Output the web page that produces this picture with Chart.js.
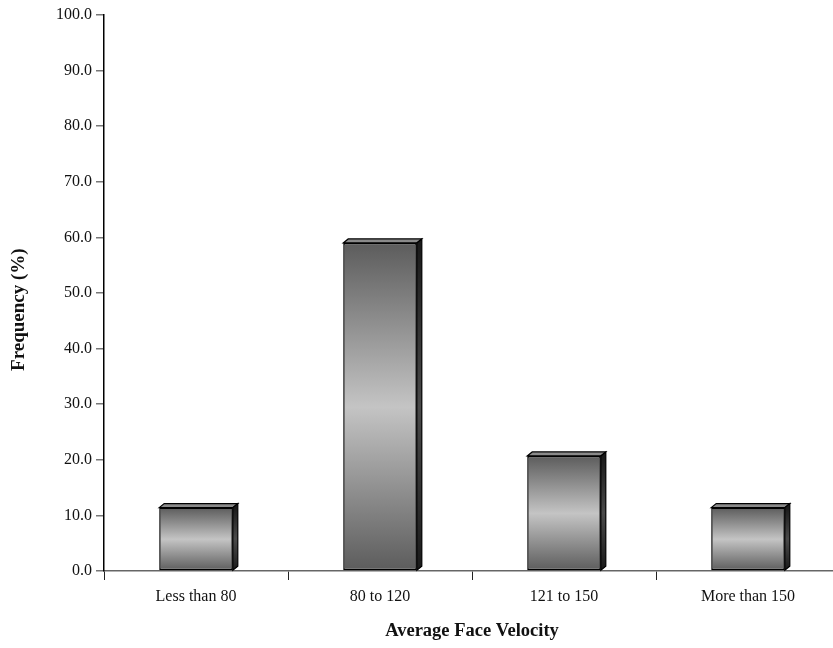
<!DOCTYPE html>
<html lang="en">
<head>
    <meta charset="UTF-8">
    <title>Average Face Velocity</title>
    <script src="https://cdn.jsdelivr.net/npm/chart.js"></script>
    <style>
        html, body { margin: 0; padding: 0; background: #fff; overflow: hidden; }
        #wrap { width: 842px; height: 648px; }
    </style>
</head>
<body>
<div id="wrap">
    <canvas id="velocityChart" width="842" height="648"></canvas>
</div>

<script>
    const categories = ['Less than 80', '80 to 120', '121 to 150', 'More than 150'];
    const frequency = [11.4, 59.0, 20.7, 11.4];
    const yTicks = [0, 10, 20, 30, 40, 50, 60, 70, 80, 90, 100];
    const yTitle = 'Frequency (%)';

    const serif = '"Liberation Serif", "Times New Roman", serif';
    const depthX = 5;
    const depthY = -4;

    // front face: dark at both ends, light through the middle
    function frontFill(ctx) {
        const chart = ctx.chart;
        const yScale = chart.scales.y;
        if (!yScale || ctx.raw === undefined) return '#999';
        const top = yScale.getPixelForValue(ctx.raw);
        const base = yScale.getPixelForValue(0);
        if (!isFinite(top) || !isFinite(base)) return '#999';
        const g = chart.ctx.createLinearGradient(0, top, 0, base);
        g.addColorStop(0, '#5c5c5c');
        g.addColorStop(0.5, '#c4c4c4');
        g.addColorStop(1, '#5c5c5c');
        return g;
    }

    // top and right side faces for the 3D look
    const bar3d = {
        id: 'bar3d',
        afterDatasetsDraw(chart) {
            const c = chart.ctx;
            chart.getDatasetMeta(0).data.forEach(bar => {
                const p = bar.getProps(['x', 'y', 'base', 'width'], true);
                const l = p.x - p.width / 2;
                const r = p.x + p.width / 2;
                c.save();
                c.lineWidth = 1.2;
                c.strokeStyle = '#000';
                c.lineJoin = 'miter';

                c.beginPath();
                c.moveTo(l, p.y);
                c.lineTo(l + depthX, p.y + depthY);
                c.lineTo(r + depthX, p.y + depthY);
                c.lineTo(r, p.y);
                c.closePath();
                c.fillStyle = '#8a8a8a';
                c.fill();
                c.stroke();

                const sg = c.createLinearGradient(0, p.y, 0, p.base);
                sg.addColorStop(0, '#1a1a1a');
                sg.addColorStop(0.5, '#4a4a4a');
                sg.addColorStop(1, '#1a1a1a');
                c.beginPath();
                c.moveTo(r, p.y);
                c.lineTo(r + depthX, p.y + depthY);
                c.lineTo(r + depthX, p.base + depthY);
                c.lineTo(r, p.base);
                c.closePath();
                c.fillStyle = sg;
                c.fill();
                c.stroke();
                c.restore();
            });
        }
    };

    // y axis title, sitting a little below the middle of the axis
    const sideTitle = {
        id: 'sideTitle',
        afterDraw(chart) {
            const c = chart.ctx;
            const area = chart.chartArea;
            c.save();
            c.translate(19, area.top + (area.bottom - area.top) * 0.53);
            c.rotate(-Math.PI / 2);
            c.font = 'bold 19px ' + serif;
            c.fillStyle = '#111';
            c.textAlign = 'center';
            c.textBaseline = 'middle';
            c.fillText(yTitle, 0, 0);
            c.restore();
        }
    };

    new Chart(document.getElementById('velocityChart'), {
        type: 'bar',
        data: {
            labels: categories,
            datasets: [{
                data: frequency,
                backgroundColor: frontFill,
                borderColor: '#000',
                borderWidth: 1.5,
                borderSkipped: false,
                barPercentage: 0.4,
                categoryPercentage: 1
            }]
        },
        options: {
            responsive: false,
            animation: false,
            layout: { padding: { top: 15, right: 2, left: 0, bottom: 0 } },
            plugins: {
                legend: { display: false },
                tooltip: { enabled: false }
            },
            scales: {
                x: {
                    offset: true,
                    grid: {
                        offset: true,
                        drawOnChartArea: false,
                        drawTicks: true,
                        tickLength: 9,
                        tickColor: '#222',
                        lineWidth: 1
                    },
                    border: { display: true, color: '#666', width: 1.5 },
                    ticks: {
                        color: '#111',
                        padding: 7,
                        font: { family: serif, size: 16 }
                    },
                    title: {
                        display: true,
                        text: 'Average Face Velocity',
                        color: '#111',
                        padding: { top: 4, bottom: 6 },
                        font: { family: serif, size: 18.5, weight: 'bold' }
                    },
                    afterFit(s) { s.height = 77; }
                },
                y: {
                    min: 0,
                    max: 100,
                    afterBuildTicks(s) { s.ticks = yTicks.map(v => ({ value: v })); },
                    grid: {
                        drawOnChartArea: false,
                        drawTicks: true,
                        tickLength: 8,
                        tickColor: '#777',
                        lineWidth: 1.5
                    },
                    border: { display: true, color: '#000', width: 1.5 },
                    ticks: {
                        color: '#111',
                        padding: 4,
                        font: { family: serif, size: 16 },
                        callback: v => Number(v).toFixed(1)
                    },
                    afterFit(s) { s.width = 104; }
                }
            }
        },
        plugins: [bar3d, sideTitle]
    });
</script>
</body>
</html>
